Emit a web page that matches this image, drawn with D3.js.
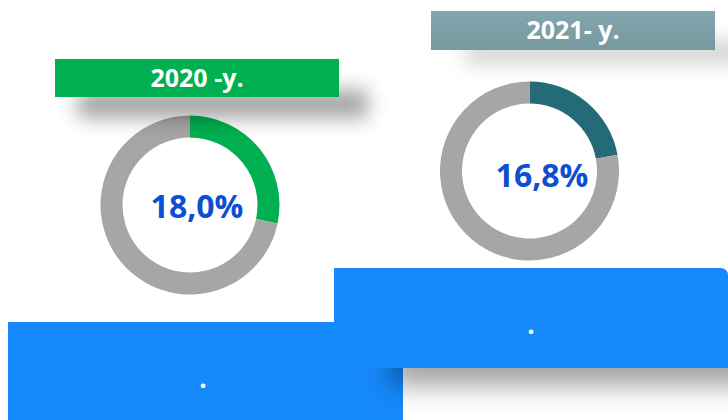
<!DOCTYPE html>
<html>
<head>
<meta charset="utf-8">
<script src="https://cdn.jsdelivr.net/npm/d3@7"></script>
<style>
    body { margin: 0; background: #fff; }
    text { font-family: "Open Sans", "DejaVu Sans", sans-serif; font-weight: 700; }
</style>
</head>
<body>
<script>
//data
var years = ["2020 -y.", "2021- y."];
var shareLabels = ["18,0%", "16,8%"];
var arcShares = [28.3, 22.1]; //coloured part of each ring
var ringColors = ["#00B050", "#246A78"];
var titleColors = ["#00B050", "#80A3AA"];
var blockLabels = [".", "."];

window.onload = function(){

    var w = 728, h = 420;

    var svg = d3.select("body")
        .append("svg")
        .attr("width", w)
        .attr("height", h);

    var defs = svg.append("defs");

    //soft shadows
    [["blur10", 10], ["blur14", 14]].forEach(function(b){
        defs.append("filter")
            .attr("id", b[0])
            .attr("x", "-50%").attr("y", "-150%")
            .attr("width", "200%").attr("height", "400%")
            .append("feGaussianBlur")
            .attr("stdDeviation", b[1]);
    });

    //gradient for the grey title box
    var tg = defs.append("linearGradient")
        .attr("id", "tealGrad")
        .attr("x1", 0).attr("y1", 0).attr("x2", 0).attr("y2", 1);
    tg.append("stop").attr("offset", "0%").attr("stop-color", "#82A6AD");
    tg.append("stop").attr("offset", "100%").attr("stop-color", "#76999F");

    //layout per panel
    var panels = [
        {cx: 190, cy: 205, box: [55, 59, 284, 38], shadow: [78, 90, 290, 28], shOp: 0.36, lx: 197, ly: 218},
        {cx: 529.5, cy: 171, box: [431, 11, 284, 39], shadow: [465, 40, 300, 24], shOp: 0.17, lx: 542, ly: 187}
    ];

    //blue blocks (left first, then shadow of right, then right)
    svg.append("rect")
        .attr("x", 8).attr("y", 322)
        .attr("width", 395).attr("height", 110)
        .style("fill", "#1689FC");

    svg.append("rect")
        .attr("x", 390).attr("y", 345)
        .attr("width", 380).attr("height", 40)
        .attr("filter", "url(#blur14)")
        .style("fill", "#000")
        .style("opacity", 0.38);

    svg.append("path")
        .attr("d", "M334,368 L334,268 L720,268 Q728,268 728,276 L728,368 Z")
        .style("fill", "#1689FC");

    svg.selectAll(".blockLabel")
        .data(blockLabels)
        .enter()
        .append("text")
        .attr("class", "blockLabel")
        .attr("x", function(d, i){ return i === 0 ? 203 : 531; })
        .attr("y", function(d, i){ return i === 0 ? 388 : 334; })
        .attr("text-anchor", "middle")
        .style("font-size", "26px")
        .style("fill", "#fff")
        .text(function(d){ return d; });

    //donut rings
    var pie = d3.pie().sort(null).value(function(d){ return d; });
    var arc = d3.arc().innerRadius(67.5).outerRadius(89.5);

    panels.forEach(function(p, i){
        var g = svg.append("g")
            .attr("transform", "translate(" + p.cx + "," + p.cy + ")");

        g.selectAll("path")
            .data(pie([arcShares[i], 100 - arcShares[i]]))
            .enter()
            .append("path")
            .attr("d", arc)
            .style("fill", function(d, j){ return j === 0 ? ringColors[i] : "#A6A6A6"; });

        //percent label
        svg.append("text")
            .attr("x", p.lx)
            .attr("y", p.ly)
            .attr("text-anchor", "middle")
            .style("font-size", "32px")
            .style("fill", "#0D4FD3")
            .text(shareLabels[i]);
    });

    //title shadows and boxes
    panels.forEach(function(p, i){
        svg.append("rect")
            .attr("x", p.shadow[0]).attr("y", p.shadow[1])
            .attr("width", p.shadow[2]).attr("height", p.shadow[3])
            .attr("filter", "url(#blur10)")
            .style("fill", "#000")
            .style("opacity", p.shOp);

        svg.append("rect")
            .attr("x", p.box[0]).attr("y", p.box[1])
            .attr("width", p.box[2]).attr("height", p.box[3])
            .style("fill", i === 0 ? titleColors[0] : "url(#tealGrad)");

        svg.append("text")
            .attr("x", p.box[0] + p.box[2] / 2)
            .attr("y", p.box[1] + 28)
            .attr("text-anchor", "middle")
            .style("font-size", "25px")
            .style("fill", "#fff")
            .text(years[i]);
    });
};
</script>
</body>
</html>
